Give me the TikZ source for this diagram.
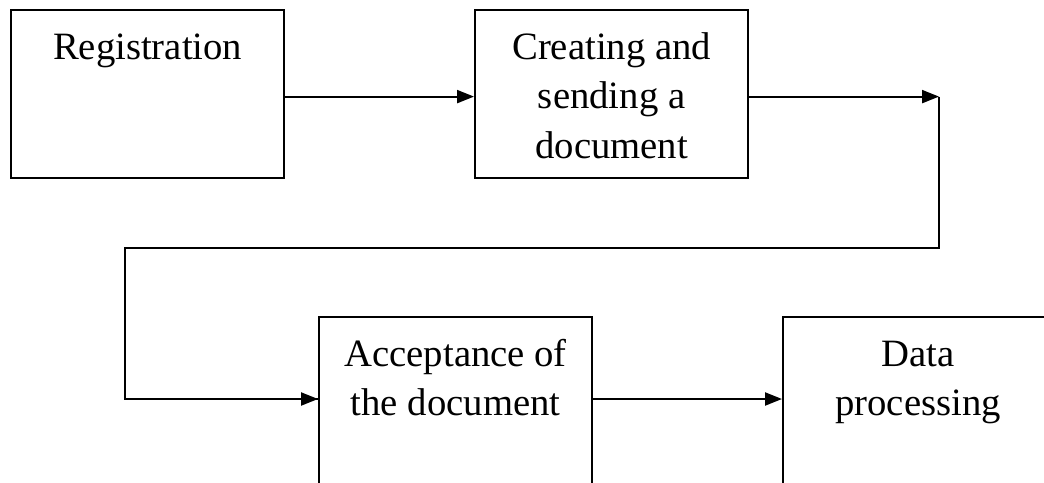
\documentclass[tikz,border=0pt]{standalone}
\usepackage{fontspec}
\setmainfont{Liberation Serif}
\usetikzlibrary{arrows.meta}
\begin{document}
\begin{tikzpicture}[x=1pt,y=-1pt,
  box/.style={draw=black, line width=2.2pt, anchor=north west, inner sep=0pt},
  txt/.style={anchor=base, inner sep=0pt, font=\fontsize{38.7}{49.5}\selectfont},
  conn/.style={line width=2.2pt},
  arr/.style={conn, -{Triangle[length=17pt,width=13pt]}}]
\useasboundingbox (0,0) rectangle (1044,482);
\clip (0,0) rectangle (1044,482);
\node[box, minimum width=273pt, minimum height=168pt] (reg) at (10,9) {};
\node[box, minimum width=273pt, minimum height=168pt] (cre) at (474,9) {};
\node[box, minimum width=273pt, minimum height=172pt] (acc) at (318,316) {};
\node[box, minimum width=270pt, minimum height=172pt] (dat) at (782,316) {};
\node[txt] (regt) at ([yshift=-50pt]reg.north) {\begin{tabular}[t]{@{}c@{}}Registration\end{tabular}};
\node[txt] (cret) at ([yshift=-50pt]cre.north) {\begin{tabular}[t]{@{}c@{}}Creating and\\sending a\\document\end{tabular}};
\node[txt] (acct) at ([yshift=-50pt]acc.north) {\begin{tabular}[t]{@{}c@{}}Acceptance of\\the document\end{tabular}};
\node[txt] (datt) at ([yshift=-50pt]dat.north) {\begin{tabular}[t]{@{}c@{}}Data\\processing\end{tabular}};
\coordinate (c0) at ([yshift=-2.5pt]cre.east);
\coordinate (c1) at (c0 -| 939,0);
\coordinate (c2) at (939,248);
\coordinate (c3) at (125,248);
\coordinate (c4) at (125,399);
\draw[arr] ([yshift=-2.5pt]reg.east) -- ([yshift=-2.5pt]cre.west);
\draw[arr] (c0) -- (c1);
\draw[conn, line join=miter] (c1) -- (c2) -- (c3) -- (c4) -- (c4 -| acc.west);
\draw[arr] (c4) -- (c4 -| acc.west);
\draw[arr] (acc.east |- c4) -- (dat.west |- c4);
\end{tikzpicture}
\end{document}
